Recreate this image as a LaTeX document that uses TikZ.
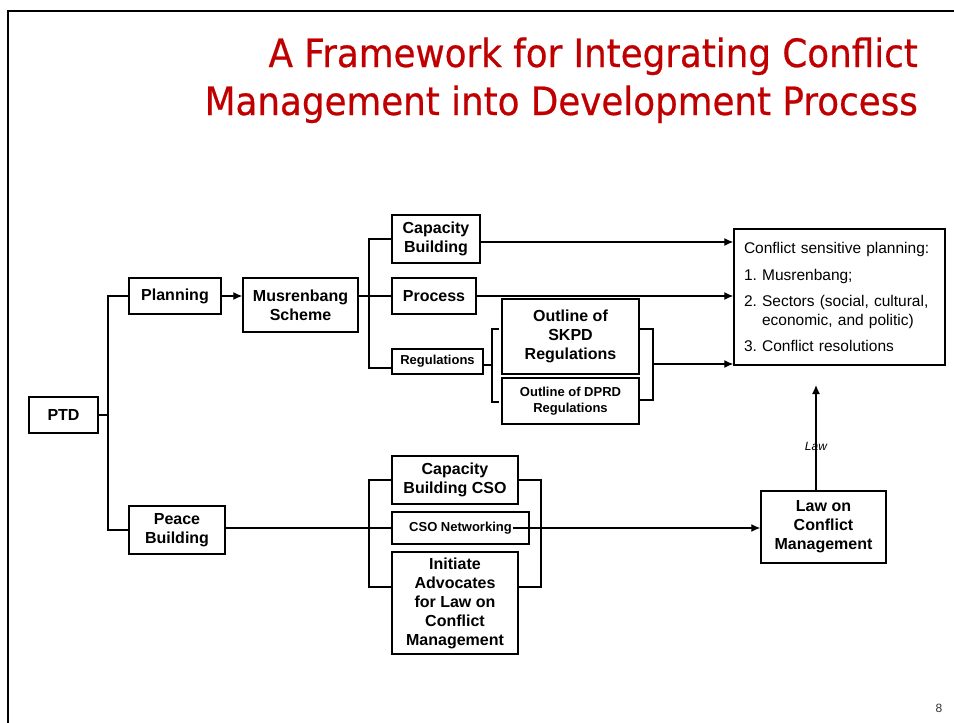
\documentclass[tikz,border=0pt]{standalone}
\usepackage{fontspec}
\setmainfont{Liberation Sans}
\newfontfamily\titlefont[FakeStretch=0.915,FakeBold=0.6]{DejaVu Sans}
\usetikzlibrary{arrows.meta}
\definecolor{titlered}{RGB}{192,0,0}

\begin{document}
\begin{tikzpicture}[x=1pt,y=-1pt,
  box/.style={draw,line width=1.4pt,inner sep=0pt,align=center,font=\bfseries\fontsize{16}{19}\selectfont},
  smallbox/.style={box,font=\bfseries\fontsize{13}{16}\selectfont},
  title/.style={text=titlered,inner sep=0pt,anchor=base east,font=\titlefont\fontsize{39}{48}\selectfont},
  link/.style={line width=1.3pt},
  arr/.style={link,-{Latex[length=9pt,width=8pt]}}]
\useasboundingbox (0,0) rectangle (954,723);
\draw[line width=2pt] (8,723) -- (8,11) -- (954,11);

\node[title] (title1) at (918,67) {A Framework for Integrating Conflict};
\node[title] (title2) at (918,115) {Management into Development Process};

% planning side
\node[box,minimum width=69,minimum height=36] (ptd) at (63.5,415) {PTD};
\node[box,minimum width=92,minimum height=36] (plan) at (175,296) {Planning};
\node[box,minimum width=115,minimum height=54] (mus) at (300.5,305) {Musrenbang\\Scheme};
\node[box,minimum width=88,minimum height=48] (capb) at (436,239) {Capacity\\Building};
\node[box,minimum width=84,minimum height=36] (proc) at (434,296) {Process};
\node[smallbox,minimum width=91,minimum height=25] (regs) at (437.5,361.5) {Regulations};
\node[box,minimum width=137,minimum height=75] (skpd) at (570.5,336.5) {Outline of\\SKPD\\Regulations};
\node[smallbox,minimum width=137,minimum height=46] (dprd) at (570.5,401) {Outline of DPRD\\Regulations};
\node[draw,line width=1.4pt,minimum width=211,minimum height=136,inner xsep=10pt,
  text width=191,align=left,font=\fontsize{15.5}{18.5}\selectfont] (csp) at (839.5,297)
  {Conflict sensitive planning:\\[8pt]
   1.~Musrenbang;\\[8pt]
   2.~Sectors (social, cultural,\\
   \phantom{2.~}economic, and politic)\\[8pt]
   3.~Conflict resolutions};

% peace building side
\node[box,minimum width=96,minimum height=48] (peace) at (177,530) {Peace\\Building};
\node[box,minimum width=126,minimum height=48] (ccso) at (455,480) {Capacity\\Building CSO};
\node[smallbox,minimum width=137,minimum height=32] (net) at (460.5,528) {CSO Networking};
\node[box,minimum width=126,minimum height=102] (init) at (455,603) {Initiate\\Advocates\\for Law on\\Conflict\\Management};
\node[box,minimum width=125,minimum height=72] (law) at (823.5,527) {Law on\\Conflict\\Management};

\coordinate (trunk) at (108,415);
\coordinate (rsplit) at (369,368);
\coordinate (lbr) at (492,365);
\coordinate (rbr) at (653,364);
\coordinate (pbr) at (369,528);
\coordinate (ibr) at (369,587);
\coordinate (ibr2) at (541,587);
\coordinate (lawtip) at (816,385);

\draw[link] (ptd.east) -- (trunk);
\draw[link] (plan.west) -| (trunk) |- (peace.west);
\draw[arr] (plan.east) -- (plan.east -| mus.west);
\draw[link] (mus.east |- proc.west) -- (proc.west);
\draw[link] (capb.west) -| (rsplit) -- (rsplit -| regs.west);
\draw[arr] ([yshift=-3pt]capb.east) -- ([yshift=-3pt]capb.east -| csp.west);
\draw[arr] (proc.east) -- (proc.east -| csp.west);
\draw[link] (regs.east |- lbr) -- (lbr);
\draw[link] (499,329) -| (lbr) |- (499,402);
\draw[link] (639,329) -| (rbr) |- (639,400);
\draw[arr] (rbr) -- (rbr -| csp.west);

\draw[line width=2.4pt] (peace.east |- pbr) -- (pbr);
\draw[link] (pbr) -- (net.west);
\draw[link] (ccso.west) -| (ibr) -- (ibr -| init.west);
\draw[link] (ccso.east) -| (ibr2) -- (ibr2 -| init.east);
\draw[arr] ([xshift=-17pt]net.east) -- (law.west |- net.east);
\draw[arr] (law.north -| lawtip) -- node[pos=0.42,font=\itshape\fontsize{12}{14}\selectfont] {Law} (lawtip);

\node[font=\fontsize{12}{14}\selectfont,text=black!80] (page) at (939,708) {8};
\end{tikzpicture}
\end{document}
